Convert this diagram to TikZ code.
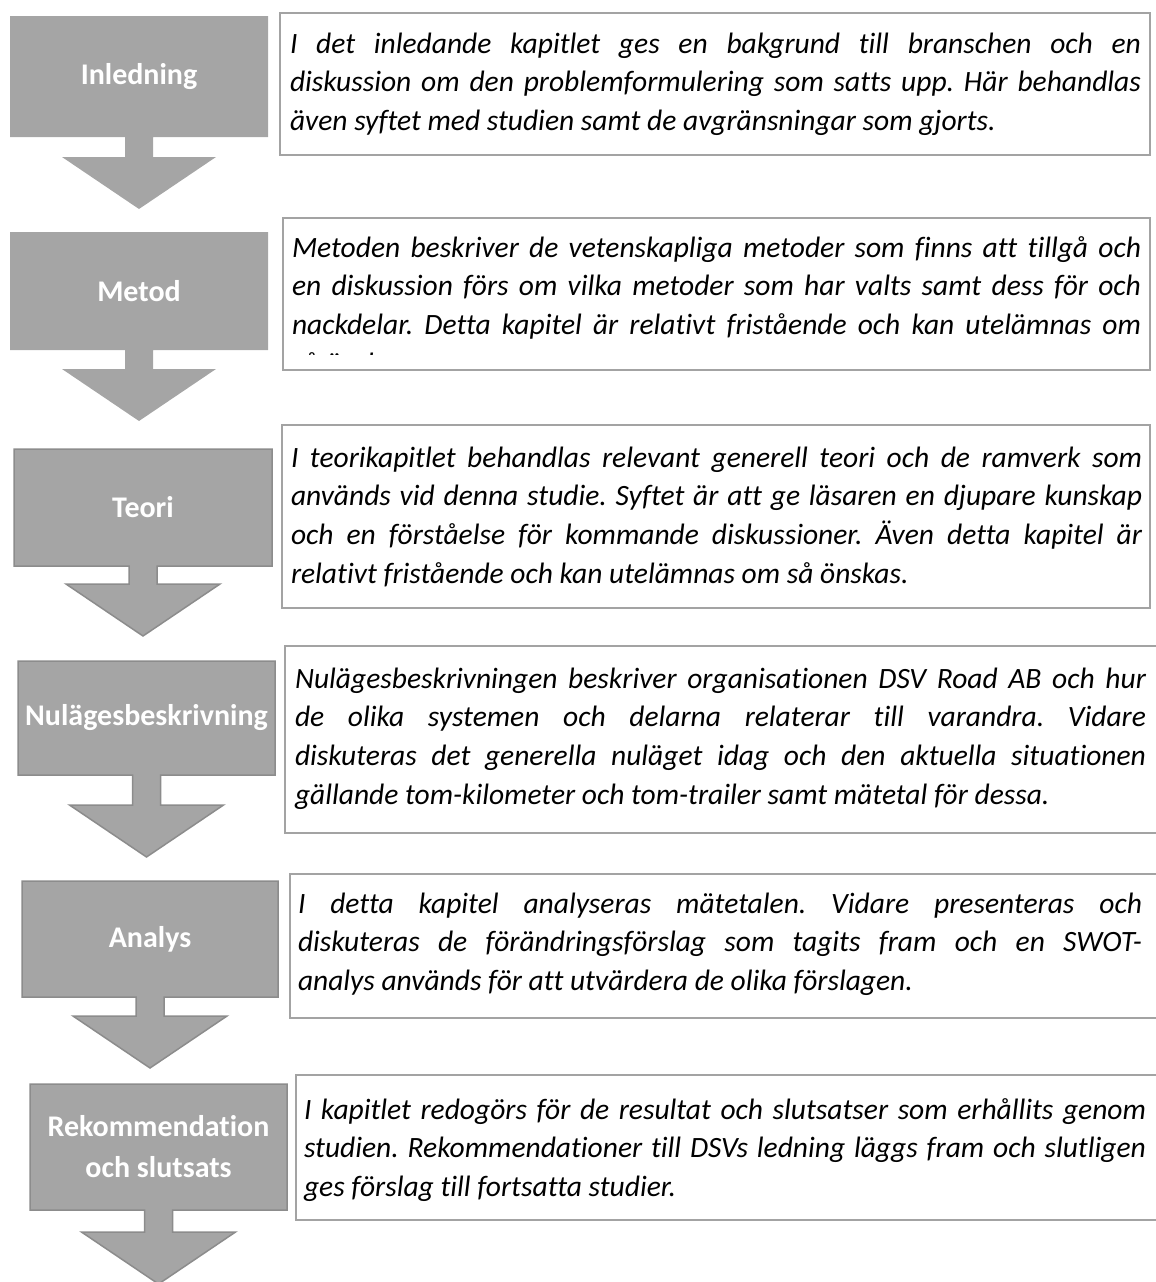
\documentclass[tikz,border=0pt]{standalone}
\usepackage{fontspec}
\setmainfont{Carlito}[Ligatures=NoCommon]
\usetikzlibrary{backgrounds}

\definecolor{chapgray}{HTML}{A5A5A5}
\definecolor{chapedge}{HTML}{8C8C8C}
\definecolor{framegray}{HTML}{A3A3A3}

\tikzset{
  chaplabel/.style={inner sep=0pt, outer sep=0pt, text=white, align=center,
    font=\fontsize{30}{41}\selectfont\bfseries},
  chapplain/.style={fill=chapgray},
  chapedged/.style={fill=chapgray, draw=chapedge, line width=1.5pt},
  descbox/.style={draw=framegray, line width=1.8pt, inner sep=0pt, outer sep=0pt, anchor=north west},
  desctext/.style={inner sep=0pt, outer sep=0pt, anchor=base west,
    font=\fontsize{29.5}{38.7}\selectfont\itshape\frenchspacing},
}

% justified line of a paragraph with fixed breaks
\newcommand\jline[1]{\makebox[\linewidth][s]{#1}\\}

% chapter block: grey box with a downward block arrow below it
% #1 name, #2 x1, #3 y1, #4 x2, #5 y2, #6 label, #7 stem length, #8 style
\newcommand\chapblock[8]{%
  \node[chaplabel, minimum width={#4-#2}, minimum height={#5-#3}] (#1)
    at ({(#2+#4)/2},{(#3+#5)/2}) {#6};
  \begin{scope}[on background layer]
    \path[#8] (#1.north west) -- (#1.north east) -- (#1.south east)
      -- ([xshift=14pt]#1.south) -- ++(0,#7) -- ++(63,0) -- ++(-77,52)
      -- ++(-77,-52) -- ++(63,0) -- ++(0,-#7) -- (#1.south west) -- cycle;
  \end{scope}
}

% description frame with its text, clipped to the frame's inner area
% #1 name, #2 x1, #3 y1, #4 x2, #5 y2, #6 text left, #7 text right, #8 first baseline, #9 lines
\newcommand\descblock[9]{%
  \node[descbox, minimum width={#4-#2}, minimum height={#5-#3}] (#1) at (#2,#3) {};
  \begin{scope}
    \clip (#2,#3) rectangle (#4,{#5-16});
    \node[desctext] (#1-text) at (#6,#8)
      {\parbox[t]{\dimexpr#7pt-#6pt\relax}{#9}};
  \end{scope}
}

\begin{document}
\begin{tikzpicture}[x=1pt,y=-1pt]
  \useasboundingbox (0,0) rectangle (1156,1282);

  % chapter column
  \chapblock{inl}{10}{16}{268}{137}{Inledning}{20}{chapplain}
  \chapblock{met}{10}{232}{268}{350}{Metod}{19}{chapplain}
  \chapblock{teo}{14}{449}{272}{566}{Teori}{18}{chapedged}
  \chapblock{nul}{18}{661}{275}{775}{Nulägesbeskrivning}{30}{chapedged}
  \chapblock{ana}{22}{881}{278}{997}{Analys}{19}{chapedged}
  \chapblock{rek}{30}{1084}{287}{1210}{Rekommendation\\och slutsats}{22}{chapedged}

  % description column
  \descblock{dinl}{280}{13}{1150}{155}{290}{1141}{53}{%
    \jline{I det inledande kapitlet ges en bakgrund till branschen och en}
    \jline{diskussion om den problemformulering som satts upp. Här behandlas}
    även syftet med studien samt de avgränsningar som gjorts.}

  \descblock{dmet}{283}{218}{1150}{370}{292}{1141}{257}{%
    \jline{Metoden beskriver de vetenskapliga metoder som finns att tillgå och}
    \jline{en diskussion förs om vilka metoder som har valts samt dess för och}
    \jline{nackdelar. Detta kapitel är relativt fristående och kan utelämnas om}
    så önskas.}

  \descblock{dteo}{282}{425}{1150}{608}{291}{1142}{467}{%
    \jline{I teorikapitlet behandlas relevant generell teori och de ramverk som}
    \jline{används vid denna studie. Syftet är att ge läsaren en djupare kunskap}
    \jline{och en förståelse för kommande diskussioner. Även detta kapitel är}
    relativt fristående och kan utelämnas om så önskas.}

  \descblock{dnul}{285}{646}{1158}{833}{295}{1146}{688}{%
    \jline{Nulägesbeskrivningen beskriver organisationen DSV Road AB och hur}
    \jline{de olika systemen och delarna relaterar till varandra. Vidare}
    \jline{diskuteras det generella nuläget idag och den aktuella situationen}
    gällande tom-kilometer och tom-trailer samt mätetal för dessa.}

  \descblock{dana}{290}{874}{1158}{1018}{298}{1142}{913}{%
    \jline{I detta kapitel analyseras mätetalen. Vidare presenteras och}
    \jline{diskuteras de förändringsförslag som tagits fram och en SWOT-}
    analys används för att utvärdera de olika förslagen.}

  \descblock{drek}{296}{1075}{1158}{1220}{304}{1146}{1119}{%
    \jline{I kapitlet redogörs för de resultat och slutsatser som erhållits genom}
    \jline{studien. Rekommendationer till DSVs ledning läggs fram och slutligen}
    ges förslag till fortsatta studier.}
\end{tikzpicture}
\end{document}
